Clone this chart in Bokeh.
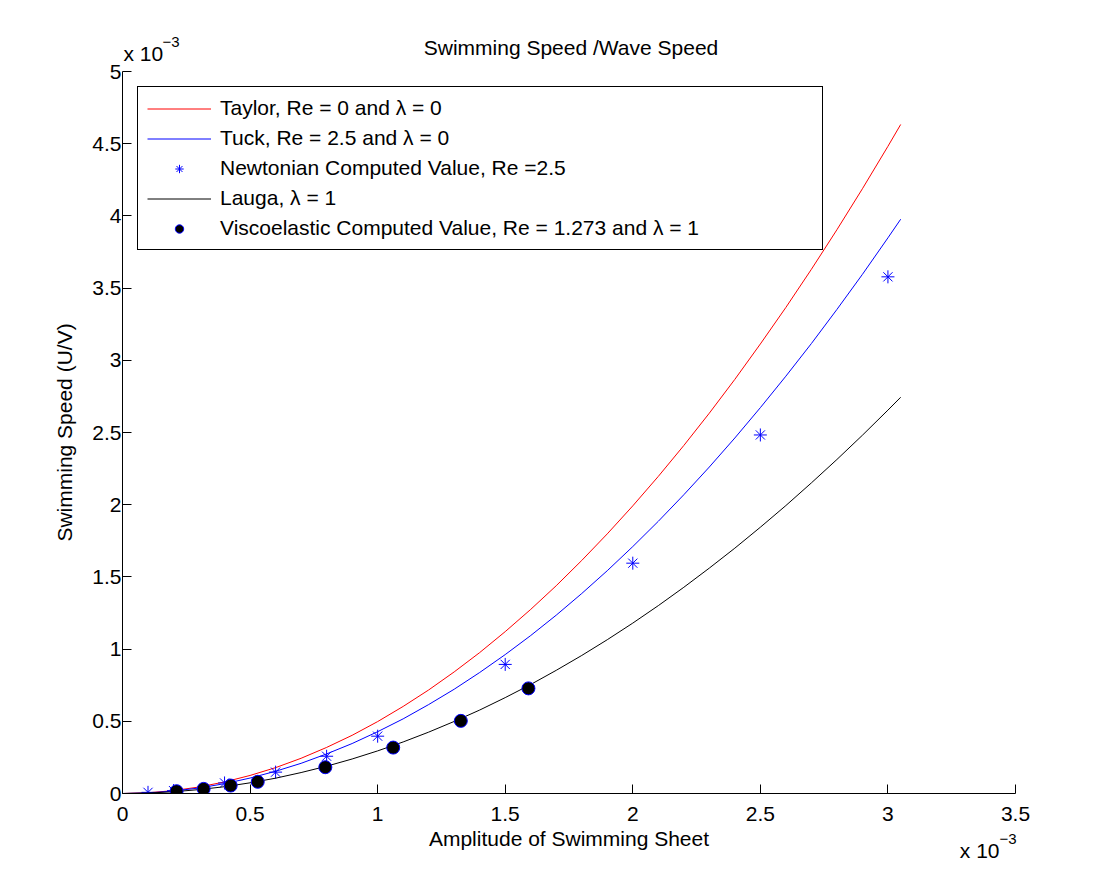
from bokeh.plotting import figure
from bokeh.models import Label, FixedTicker, CustomJSTickFormatter, Legend, LegendItem
from bokeh.embed import file_html
from bokeh.resources import INLINE

FONT = "Liberation Sans"
FS = "21px"

# values in units of 1e-3 (axis multiplier shown as "x 10^-3")
curve_x = [0.0, 0.1, 0.2, 0.3, 0.4, 0.5, 0.6, 0.7, 0.8, 0.9, 1.0, 1.1, 1.2, 1.3,
           1.4, 1.5, 1.6, 1.7, 1.8, 1.9, 2.0, 2.1, 2.2, 2.3, 2.4, 2.5, 2.6, 2.7,
           2.8, 2.9, 3.0, 3.05]
taylor_y = [0.0, 0.005, 0.020, 0.045, 0.080, 0.125, 0.179, 0.244, 0.319, 0.403,
            0.498, 0.603, 0.717, 0.842, 0.976, 1.121, 1.275, 1.439, 1.614, 1.798,
            1.992, 2.196, 2.410, 2.634, 2.868, 3.113, 3.366, 3.630, 3.904, 4.188,
            4.482, 4.633]
tuck_y = [0.0, 0.004, 0.017, 0.038, 0.068, 0.107, 0.154, 0.209, 0.274, 0.346,
          0.428, 0.517, 0.616, 0.722, 0.838, 0.962, 1.094, 1.235, 1.385, 1.543,
          1.710, 1.885, 2.069, 2.261, 2.462, 2.672, 2.890, 3.116, 3.352, 3.595,
          3.848, 3.977]
lauga_y = [0.0, 0.003, 0.012, 0.027, 0.047, 0.074, 0.106, 0.145, 0.189, 0.239,
           0.295, 0.357, 0.425, 0.499, 0.578, 0.664, 0.755, 0.853, 0.956, 1.065,
           1.180, 1.301, 1.428, 1.561, 1.699, 1.844, 1.994, 2.151, 2.313, 2.481,
           2.655, 2.744]
newton_x = [0.1, 0.2, 0.4, 0.6, 0.8, 1.0, 1.5, 2.0, 2.5, 3.0]
newton_y = [0.008, 0.020, 0.073, 0.148, 0.258, 0.397, 0.894, 1.595, 2.483, 3.578]
visco_x = [0.212, 0.318, 0.424, 0.530, 0.795, 1.061, 1.326, 1.591]
visco_y = [0.016, 0.032, 0.055, 0.081, 0.182, 0.318, 0.503, 0.728]
x_ticks = [0, 0.5, 1, 1.5, 2, 2.5, 3, 3.5]
y_ticks = [0, 0.5, 1, 1.5, 2, 2.5, 3, 3.5, 4, 4.5, 5]

title_text = "Swimming Speed /Wave Speed"
labels = ["Taylor, Re = 0 and λ = 0",
          "Tuck, Re = 2.5 and λ = 0",
          "Newtonian Computed Value, Re =2.5",
          "Lauga, λ = 1",
          "Viscoelastic Computed Value, Re = 1.273 and λ = 1"]

p = figure(frame_width=893, frame_height=722, x_range=(0, 3.5), y_range=(0, 5),
           output_backend="svg", toolbar_location=None,
           min_border_left=122, min_border_top=71, min_border_right=80,
           min_border_bottom=76, background_fill_color="white",
           border_fill_color="white")
p.outline_line_color = None
p.xgrid.visible = False
p.ygrid.visible = False

r1 = p.line(curve_x, taylor_y, line_color="#ff0000", line_width=1)
r2 = p.line(curve_x, tuck_y, line_color="#0000ff", line_width=1)
r3 = p.scatter(newton_x, newton_y, marker="asterisk", size=13,
               line_color="#0000ff", line_width=1)
r4 = p.line(curve_x, lauga_y, line_color="black", line_width=1)
r5 = p.scatter(visco_x, visco_y, marker="circle", size=13,
               fill_color="black", line_color="#0000ff", line_width=1)

legend = Legend(items=[LegendItem(label=labels[0], renderers=[r1]),
                       LegendItem(label=labels[1], renderers=[r2]),
                       LegendItem(label=labels[2], renderers=[r3]),
                       LegendItem(label=labels[3], renderers=[r4]),
                       LegendItem(label=labels[4], renderers=[r5])],
                location="top_left", margin=15, padding=9, spacing=6,
                glyph_width=64, glyph_height=21, label_height=21,
                label_width=593, label_standoff=9,
                label_text_font=FONT, label_text_font_size=FS,
                label_text_color="black",
                border_line_color="black", border_line_width=1,
                border_line_alpha=1.0,
                background_fill_color="white", background_fill_alpha=1.0)
p.add_layout(legend)

fmt = CustomJSTickFormatter(code="return String(Math.round(tick*10)/10);")
for ax, ticks in ((p.xaxis[0], x_ticks), (p.yaxis[0], y_ticks)):
    ax.ticker = FixedTicker(ticks=ticks)
    ax.formatter = fmt
    ax.major_tick_in = 9
    ax.major_tick_out = 0
    ax.minor_tick_line_color = None
    ax.axis_line_color = "black"
    ax.major_tick_line_color = "black"
    ax.major_label_text_font = FONT
    ax.major_label_text_font_size = FS
    ax.major_label_text_color = "black"
    ax.axis_label_text_font = FONT
    ax.axis_label_text_font_size = FS
    ax.axis_label_text_font_style = "normal"
    ax.axis_label_text_color = "black"

p.xaxis.axis_label = "Amplitude of Swimming Sheet"
p.yaxis.axis_label = "Swimming Speed (U/V)"
p.xaxis.major_label_standoff = 13
p.yaxis.major_label_standoff = 1
p.xaxis.axis_label_standoff = 3
p.yaxis.axis_label_standoff = 13

# title and axis multiplier labels, placed in the side panels (not clipped),
# positioned from the frame's own data coordinates
p.add_layout(Label(x=1.75, y=5, x_offset=2, y_offset=24, text=title_text,
                   text_font=FONT, text_font_size=FS, text_color="black",
                   text_align="center", text_baseline="alphabetic"), "above")
p.add_layout(Label(x=0, y=5, x_offset=1, y_offset=18, text="x 10",
                   text_font=FONT, text_font_size=FS, text_color="black",
                   text_baseline="alphabetic"), "above")
p.add_layout(Label(x=0, y=5, x_offset=40, y_offset=30, text="−3",
                   text_font=FONT, text_font_size="15px", text_color="black",
                   text_baseline="alphabetic"), "above")
p.add_layout(Label(x=3.5, y=0, x_offset=-16, y_offset=-57, text="x 10",
                   text_font=FONT, text_font_size=FS, text_color="black",
                   text_align="right", text_baseline="alphabetic"), "below")
p.add_layout(Label(x=3.5, y=0, x_offset=1, y_offset=-45, text="−3",
                   text_font=FONT, text_font_size="15px", text_color="black",
                   text_align="right", text_baseline="alphabetic"), "below")

open("out.html", "w").write(file_html(p, INLINE))
